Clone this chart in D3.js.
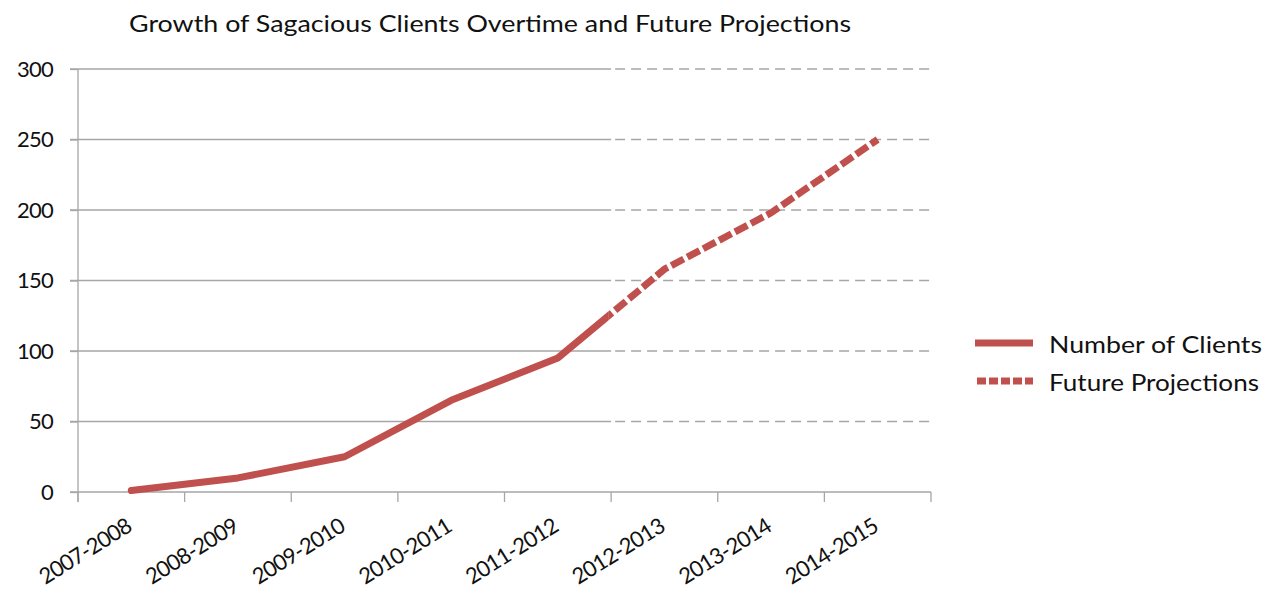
<!DOCTYPE html>
<html>
<head>
<meta charset="utf-8">
<script src="https://cdn.jsdelivr.net/npm/d3@7"></script>
<style>
  html, body { margin: 0; padding: 0; background: #fff; }
  svg text { font-family: Lato, "Open Sans", sans-serif; fill: #111; }
</style>
</head>
<body>
<svg id="chart" width="1265" height="591"></svg>
<script>
// data
const periods = ["2007-2008", "2008-2009", "2009-2010", "2010-2011",
                 "2011-2012", "2012-2013", "2013-2014", "2014-2015"];
const clients = [1, 10, 25, 65, 95, 158, 198, 250];
const yTicks = [0, 50, 100, 150, 200, 250, 300];
const firstProjected = "2012-2013"; // projections start at this band
const seriesNames = ["Number of Clients", "Future Projections"];

const RED = "#C0504D";
const GRID = "#A6A6A6";

const svg = d3.select("#chart");
const plotL = 78, plotR = 931, plotT = 69, plotB = 492;

const x = d3.scaleBand().domain(periods).range([plotL, plotR]).padding(0);
const y = d3.scaleLinear().domain([0, 300]).range([plotB, plotT]);
const cx = d => x(d) + x.bandwidth() / 2;
const split = x(firstProjected);

// title
svg.append("text")
  .attr("x", 490).attr("y", 32)
  .attr("text-anchor", "middle")
  .attr("font-size", 23)
  .attr("textLength", 722).attr("lengthAdjust", "spacingAndGlyphs")
  .text("Growth of Sagacious Clients Overtime and Future Projections");

// gridlines: solid over actual years, dashed over projection years
const grid = svg.append("g");
grid.selectAll("line.solid")
  .data(yTicks.filter(t => t > 0))
  .enter().append("line")
  .attr("x1", plotL - 8).attr("x2", split)
  .attr("y1", d => y(d)).attr("y2", d => y(d))
  .attr("stroke", GRID).attr("stroke-width", 1.3);
grid.selectAll("line.dash")
  .data(yTicks.filter(t => t > 0))
  .enter().append("line")
  .attr("x1", split + 4).attr("x2", plotR)
  .attr("y1", d => y(d)).attr("y2", d => y(d))
  .attr("stroke", GRID).attr("stroke-width", 1.3)
  .attr("stroke-dasharray", "10,6");

// y axis
const yAxis = svg.append("g")
  .attr("transform", `translate(${plotL},0)`)
  .call(d3.axisLeft(y).tickValues(yTicks).tickSize(8).tickPadding(17));
yAxis.select(".domain").remove();
yAxis.selectAll(".tick line").attr("stroke", GRID).attr("stroke-width", 1.3);
yAxis.selectAll(".tick text").attr("font-size", 22).attr("font-family", "Lato, sans-serif")
  .attr("fill", "#222").attr("letter-spacing", -0.8);
svg.append("line")
  .attr("x1", plotL).attr("x2", plotL).attr("y1", plotT).attr("y2", plotB + 10)
  .attr("stroke", GRID).attr("stroke-width", 1.3);

// x axis
svg.append("line")
  .attr("x1", plotL - 8).attr("x2", plotR).attr("y1", plotB).attr("y2", plotB)
  .attr("stroke", GRID).attr("stroke-width", 1.3);
svg.append("g").selectAll("line")
  .data(periods.map(p => x(p)).concat([plotR]))
  .enter().append("line")
  .attr("x1", d => d).attr("x2", d => d)
  .attr("y1", plotB).attr("y2", plotB + 10)
  .attr("stroke", GRID).attr("stroke-width", 1.3);
svg.append("g").selectAll("text")
  .data(periods)
  .enter().append("text")
  .attr("transform", d => `translate(${cx(d) + 2},${plotB + 38}) rotate(-32)`)
  .attr("text-anchor", "end")
  .attr("font-size", 22)
  .attr("letter-spacing", -0.7)
  .text(d => d);

// clip regions
const defs = svg.append("defs");
defs.append("clipPath").attr("id", "clipActual")
  .append("rect").attr("x", 0).attr("y", 0).attr("width", split - 3).attr("height", 591);
defs.append("clipPath").attr("id", "clipProj")
  .append("rect").attr("x", split - 3).attr("y", 0).attr("width", 1265).attr("height", 591);

const line = d3.line().x((d, i) => cx(periods[i])).y(d => y(d));

svg.append("path")
  .datum(clients)
  .attr("d", line)
  .attr("clip-path", "url(#clipActual)")
  .attr("fill", "none").attr("stroke", RED).attr("stroke-width", 7)
  .attr("stroke-linecap", "round").attr("stroke-linejoin", "round");

svg.append("path")
  .datum(clients)
  .attr("d", line)
  .attr("clip-path", "url(#clipProj)")
  .attr("fill", "none").attr("stroke", RED).attr("stroke-width", 7)
  .attr("stroke-dasharray", "14,4")
  .attr("stroke-dashoffset", -4);

// legend
const legend = svg.append("g").attr("transform", "translate(975,343)");
legend.selectAll("line")
  .data(seriesNames)
  .enter().append("line")
  .attr("x1", (d, i) => i ? 2 : 0).attr("x2", 58)
  .attr("y1", (d, i) => i * 38).attr("y2", (d, i) => i * 38)
  .attr("stroke", RED).attr("stroke-width", 7)
  .attr("stroke-dasharray", (d, i) => i ? "9,3" : null);
legend.selectAll("text")
  .data(seriesNames)
  .enter().append("text")
  .attr("x", 74).attr("y", (d, i) => i * 38 + 10)
  .attr("font-size", 24)
  .attr("textLength", (d, i) => i ? 210 : 213).attr("lengthAdjust", "spacingAndGlyphs")
  .text(d => d);
</script>
</body>
</html>
